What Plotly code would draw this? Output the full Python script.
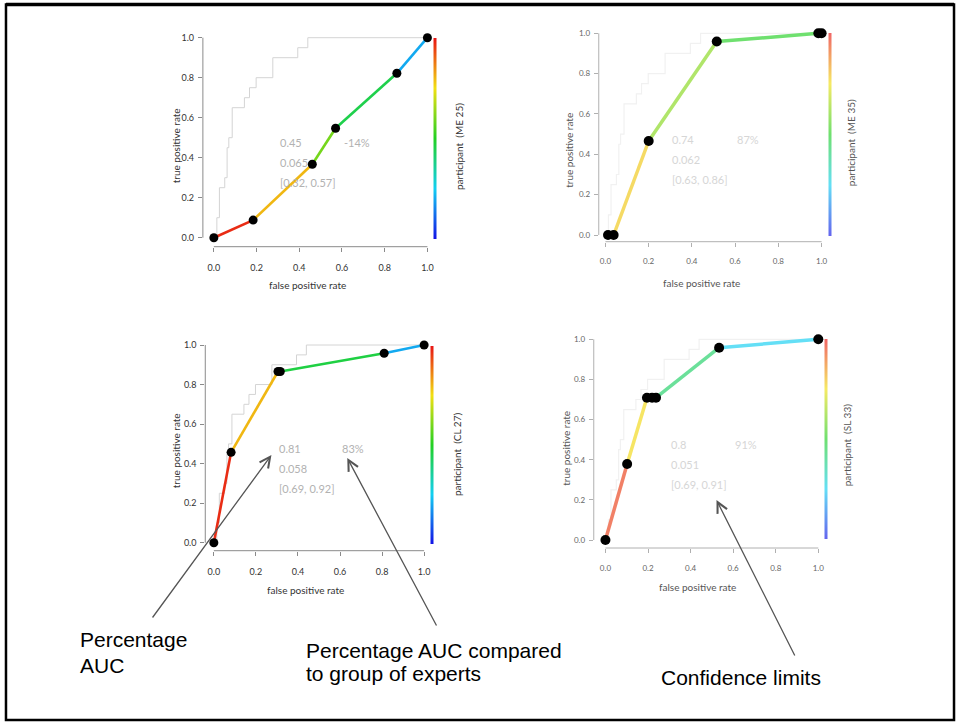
import plotly.graph_objects as go
from plotly.colors import sample_colorscale

W, H = 963, 722

# ---------------- data ----------------
TICKS = [0.0, 0.2, 0.4, 0.6, 0.8, 1.0]
TICK_LABELS = ["0.0", "0.2", "0.4", "0.6", "0.8", "1.0"]

# ROC curve of the group of experts (grey staircase)
EXPERT_FPR = [0.0, 0.014, 0.026, 0.051, 0.062, 0.070, 0.086, 0.143, 0.167, 0.198, 0.276, 0.393, 0.440, 1.0]
EXPERT_TPR = [0.0, 0.10, 0.25, 0.30, 0.45, 0.50, 0.65, 0.70, 0.75, 0.80, 0.90, 0.95, 1.00, 1.0]

# participant ROC curves
P1_FPR = [0.0, 0.184, 0.461, 0.570, 0.857, 1.0]
P1_TPR = [0.0, 0.088, 0.367, 0.547, 0.822, 1.0]
P1_LEVEL = [0.97, 0.80, 0.60, 0.45, 0.20]
P1_STATS = ["0.45", "0.065", "[0.32, 0.57]", "-14%"]
P1_NAME = "participant  (ME 25)"

P2_FPR = [0.012, 0.038, 0.200, 0.515, 0.985, 1.0]
P2_TPR = [0.0, 0.0, 0.466, 0.959, 1.0, 1.0]
P2_LEVEL = [0.90, 0.78, 0.62, 0.50, 0.48]
P2_STATS = ["0.74", "0.062", "[0.63, 0.86]", "87%"]
P2_NAME = "participant  (ME 35)"

P3_FPR = [0.0, 0.082, 0.305, 0.316, 0.810, 1.0]
P3_TPR = [0.0, 0.457, 0.866, 0.866, 0.958, 1.0]
P3_LEVEL = [0.97, 0.80, 0.60, 0.46, 0.20]
P3_STATS = ["0.81", "0.058", "[0.69, 0.92]", "83%"]
P3_NAME = "participant  (CL 27)"

P4_FPR = [0.0, 0.102, 0.195, 0.219, 0.2375, 0.534, 1.0]
P4_TPR = [0.0, 0.379, 0.709, 0.709, 0.709, 0.958, 1.0]
P4_LEVEL = [0.95, 0.76, 0.65, 0.55, 0.42, 0.25]
P4_STATS = ["0.8", "0.051", "[0.69, 0.91]", "91%"]
P4_NAME = "participant  (SL 33)"

AXIS_X_TITLE = "false positive rate"
AXIS_Y_TITLE = "true positive rate"

CALLOUTS = ["Percentage", "AUC", "Percentage AUC compared", "to group of experts", "Confidence limits"]

# ---------------- styles ----------------
RAINBOW = [[0.0, "#1212e6"], [0.25, "#12cff2"], [0.5, "#22d022"], [0.75, "#f2e012"], [1.0, "#e81414"]]


def fade(hexcol, f):
    h = hexcol.lstrip("#")
    r, g, b = (int(h[i:i + 2], 16) for i in (0, 2, 4))
    r, g, b = (int(c + (255 - c) * f) for c in (r, g, b))
    return "#%02x%02x%02x" % (r, g, b)


RAINBOW_FADED = [[s, fade(c, 0.35)] for s, c in RAINBOW]

PANEL_FONT = "Lato, 'Liberation Sans', sans-serif"
SLIDE_FONT = "'Liberation Sans', Arial, sans-serif"

# geometry in pixels (layout only)
PANELS = [
    dict(fpr=P1_FPR, tpr=P1_TPR, lev=P1_LEVEL, stats=P1_STATS, name=P1_NAME, faded=False,
         px0=214.3, px1=428.3, py0=237.7, py1=37.7, xl=203.3, yl=246.7, xr=433, yt=30,
         cbx=435.7, cbt=37.7, cbb=238.3, lblx=460, lbly=147, xtx=308, xty=285, ytx=176.7, yty=146),
    dict(fpr=P2_FPR, tpr=P2_TPR, lev=P2_LEVEL, stats=P2_STATS, name=P2_NAME, faded=True,
         px0=606.7, px1=823.3, py0=235, py1=33.3, xl=600, yl=241.7, xr=828, yt=25,
         cbx=831.7, cbt=33.3, cbb=236.7, lblx=853, lbly=143, xtx=702.5, xty=283, ytx=570, yty=150),
    dict(fpr=P3_FPR, tpr=P3_TPR, lev=P3_LEVEL, stats=P3_STATS, name=P3_NAME, faded=False,
         px0=214.3, px1=425, py0=542.7, py1=345, xl=205.7, yl=550.7, xr=430, yt=337,
         cbx=432.7, cbt=345.7, cbb=543.3, lblx=458, lbly=455, xtx=305.7, xty=590, ytx=176.7, yty=451),
    dict(fpr=P4_FPR, tpr=P4_TPR, lev=P4_LEVEL, stats=P4_STATS, name=P4_NAME, faded=True,
         px0=606.7, px1=820, py0=540, py1=339.3, xl=595, yl=548, xr=825, yt=331,
         cbx=828, cbt=339, cbb=539, lblx=849, lbly=445, xtx=699, xty=587, ytx=567, yty=448),
]
STAT_X = [0.30, 0.30, 0.30, 0.60]
STAT_Y = [0.475, 0.375, 0.275, 0.475]

fig = go.Figure()
shapes = []
annotations = []
layout_axes = {}

for i, p in enumerate(PANELS, start=1):
    xa = "x" if i == 1 else f"x{i}"
    ya = "y" if i == 1 else f"y{i}"
    xkey = "xaxis" if i == 1 else f"xaxis{i}"
    ykey = "yaxis" if i == 1 else f"yaxis{i}"
    sx = p["px1"] - p["px0"]
    sy = p["py0"] - p["py1"]
    xr0 = (p["xl"] - p["px0"]) / sx
    xr1 = (p["xr"] - p["px0"]) / sx
    yr0 = (p["py0"] - p["yl"]) / sy
    yr1 = (p["py0"] - p["yt"]) / sy
    faded = p["faded"]
    cs = RAINBOW_FADED if faded else RAINBOW
    tickcol = "#666666" if faded else "#333333"
    axcol = "#b0b0b0" if faded else "#8a8a8a"
    statcol = "#d6d6d6" if faded else "#b2b2b2"
    titlecol = "#555555" if faded else "#333333"
    tsize = 8 if faded else 9

    layout_axes[xkey] = dict(domain=[p["xl"] / W, p["xr"] / W], range=[xr0, xr1], anchor=ya,
                             tickvals=TICKS, ticktext=TICK_LABELS, ticks="outside", ticklen=4,
                             tickcolor=axcol, showline=False, showgrid=False, zeroline=False,
                             tickfont=dict(family=PANEL_FONT, size=tsize, color=tickcol),
                             ticklabelstandoff=8, fixedrange=True)
    layout_axes[ykey] = dict(domain=[1 - p["yl"] / H, 1 - p["yt"] / H], range=[yr0, yr1], anchor=xa,
                             tickvals=TICKS, ticktext=TICK_LABELS, ticks="outside", ticklen=4,
                             tickcolor=axcol, showline=False, showgrid=False, zeroline=False,
                             tickfont=dict(family=PANEL_FONT, size=tsize, color=tickcol),
                             ticklabelstandoff=2, fixedrange=True)

    # R-style axis lines spanning first..last tick
    shapes.append(dict(type="line", xref=xa, yref=f"{ya} domain", x0=TICKS[0], x1=TICKS[-1], y0=0, y1=0,
                       line=dict(color=axcol, width=1)))
    shapes.append(dict(type="line", xref=f"{xa} domain", yref=ya, x0=0, x1=0, y0=TICKS[0], y1=TICKS[-1],
                       line=dict(color=axcol, width=1)))

    # experts staircase
    fig.add_trace(go.Scatter(x=EXPERT_FPR, y=EXPERT_TPR, mode="lines", line_shape="hv",
                             line=dict(color="#f1f1f1" if faded else "#d4d4d4", width=1.2 if faded else 1),
                             xaxis=xa, yaxis=ya, showlegend=False, hoverinfo="skip"))

    # coloured participant segments
    cols = sample_colorscale(cs, p["lev"])
    for k in range(len(p["fpr"]) - 1):
        fig.add_trace(go.Scatter(x=p["fpr"][k:k + 2], y=p["tpr"][k:k + 2], mode="lines",
                                 line=dict(color=cols[k], width=3.5 if faded else 2.6),
                                 xaxis=xa, yaxis=ya, showlegend=False, hoverinfo="skip",
                                 cliponaxis=False))
    fig.add_trace(go.Scatter(x=p["fpr"], y=p["tpr"], mode="markers",
                             marker=dict(color="black", size=10 if faded else 9),
                             xaxis=xa, yaxis=ya, showlegend=False, cliponaxis=False))

    # colour bar
    fig.add_trace(go.Scatter(x=[None, None], y=[None, None], mode="markers",
                             marker=dict(color=[0, 1], cmin=0, cmax=1, colorscale=cs, showscale=True,
                                         colorbar=dict(x=p["cbx"] / W, xanchor="center",
                                                       y=1 - p["cbt"] / H, yanchor="top",
                                                       len=p["cbb"] - p["cbt"], lenmode="pixels",
                                                       thickness=3, thicknessmode="pixels",
                                                       outlinewidth=0, showticklabels=False, ticks="",
                                                       xpad=0, ypad=0)),
                             xaxis=xa, yaxis=ya, showlegend=False, hoverinfo="skip"))

    # statistics texts
    for t, sxp, syp in zip(p["stats"], STAT_X, STAT_Y):
        annotations.append(dict(text=t, x=sxp, y=syp, xref=xa, yref=ya, xanchor="left", yanchor="middle",
                                showarrow=False, font=dict(family=PANEL_FONT, size=11, color=statcol)))

    # titles
    annotations.append(dict(text=AXIS_X_TITLE, x=p["xtx"] / W, y=1 - p["xty"] / H, xref="paper", yref="paper",
                            xanchor="center", yanchor="middle", showarrow=False,
                            font=dict(family=PANEL_FONT, size=10, color=titlecol)))
    annotations.append(dict(text=AXIS_Y_TITLE, x=p["ytx"] / W, y=1 - p["yty"] / H, xref="paper", yref="paper",
                            xanchor="center", yanchor="middle", showarrow=False, textangle=-90,
                            font=dict(family=PANEL_FONT, size=10, color=titlecol)))
    annotations.append(dict(text=p["name"], x=p["lblx"] / W, y=1 - p["lbly"] / H, xref="paper", yref="paper",
                            xanchor="center", yanchor="middle", showarrow=False, textangle=-90,
                            font=dict(family=PANEL_FONT, size=10, color=titlecol)))

# slide call-out texts
CALLOUT_POS = [(78, 639), (78, 665), (305, 650), (305, 673), (660, 677)]
for t, (cx, cy) in zip(CALLOUTS, CALLOUT_POS):
    annotations.append(dict(text=t, x=cx / W, y=1 - cy / H, xref="paper", yref="paper", xanchor="left",
                            yanchor="middle", showarrow=False,
                            font=dict(family=SLIDE_FONT, size=21, color="black")))

# arrows (head, tail) in pixels
ARROWS = [((272, 455), (152, 619)), ((348, 458), (438, 627)), ((718, 500), (797, 657))]
for (hx, hy), (tx, ty) in ARROWS:
    annotations.append(dict(text="", x=hx / W, y=1 - hy / H, xref="paper", yref="paper",
                            ax=tx - hx, ay=ty - hy, axref="pixel", ayref="pixel", showarrow=True,
                            arrowhead=5, arrowsize=1.6, arrowwidth=1.3, arrowcolor="#555555", standoff=0))

# slide border
shapes.append(dict(type="rect", xref="paper", yref="paper", x0=6 / W, x1=956 / W, y0=1 - 720 / H, y1=1 - 4.5 / H,
                   line=dict(color="black", width=2.5)))
shapes.append(dict(type="line", xref="paper", yref="paper", x0=6 / W, x1=956 / W, y0=1 - 4.5 / H, y1=1 - 4.5 / H,
                   line=dict(color="black", width=3.5)))

fig.update_layout(width=W, height=H, autosize=False, margin=dict(l=0, r=0, t=0, b=0),
                  paper_bgcolor="white", plot_bgcolor="white", showlegend=False,
                  shapes=shapes, annotations=annotations, **layout_axes)

fig.write_html("out.html")
